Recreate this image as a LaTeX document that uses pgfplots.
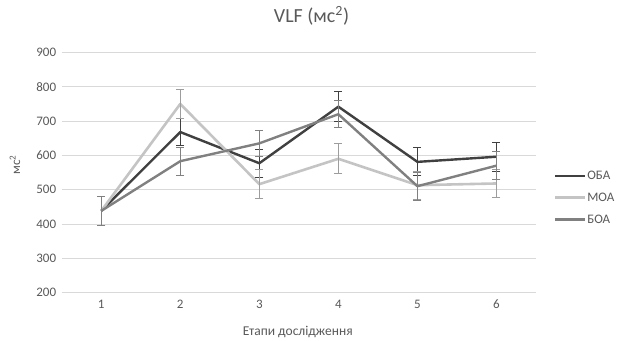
\documentclass[border=0pt]{standalone}
\usepackage{pgfplots}
\pgfplotsset{compat=1.18}
\usepackage{fontspec}
\setmainfont{Carlito}
\definecolor{oba}{HTML}{404040}
\definecolor{moa}{HTML}{C4C4C4}
\definecolor{boa}{HTML}{808080}
\definecolor{gridc}{HTML}{D9D9D9}
\definecolor{txt}{HTML}{595959}
\begin{document}
\begin{tikzpicture}[x=1pt,y=1pt]
\useasboundingbox (0,0) rectangle (617,340);
\begin{axis}[
  at={(61.7pt,47.5pt)}, anchor=south west,
  scale only axis, width=474.3pt, height=240pt,
  xmin=0.5, xmax=6.5, ymin=200, ymax=900,
  xtick={1,2,3,4,5,6}, ytick={200,300,...,900},
  axis line style={draw=none}, tick style={draw=none},
  ymajorgrids, grid style={color=gridc, line width=0.8pt},
  /pgf/number format/assume math mode=true,
  ticklabel style={font=\fontsize{13}{15}\selectfont, text=txt},
  xticklabel style={yshift=-4pt},
  yticklabel style={xshift=-2pt},
  title={VLF (мс\textsuperscript{2})},
  title style={at={(axis description cs:0.5267,1.128)}, anchor=center, font=\fontsize{20}{24}\selectfont, text=txt},
  xlabel={Етапи дослідження},
  xlabel style={at={(axis description cs:0.4976,-0.165)}, anchor=center, font=\fontsize{13.5}{16}\selectfont, text=txt},
  ylabel={мс\textsuperscript{2}},
  ylabel style={at={(axis description cs:-0.0985,0.531)}, anchor=center, rotate=0, font=\fontsize{13}{15}\selectfont, text=txt},
  legend style={at={(axis description cs:1.037,0.395)}, anchor=west, draw=none, fill=none,
    inner sep=0pt, row sep=10pt, font=\fontsize{13}{15}\selectfont, text=txt,
    nodes={inner sep=1pt}},
  legend cell align=left,
  legend image code/.code={\draw[#1] (0pt,0pt) -- (30pt,0pt);},
  every axis plot/.append style={line join=round},
  error bars/y dir=both, error bars/y explicit,
  error bars/error mark options={rotate=90, mark size=4pt, line width=0.9pt},
]
\addplot[color=oba, line width=2.4pt, mark=none,
  error bars/error bar style={line width=0.9pt, color=oba}]
  coordinates {(1,438) +- (0,42) (2,668) +- (0,39) (3,577) +- (0,41) (4,742) +- (0,44) (5,581) +- (0,41) (6,596) +- (0,42)};
\addlegendentry{ОБА}
\addplot[color=moa, line width=2.6pt, mark=none,
  error bars/error bar style={line width=0.9pt, color=moa!80!black}]
  coordinates {(1,438) +- (0,42) (2,750) +- (0,43) (3,516) +- (0,42) (4,590) +- (0,44) (5,513) +- (0,41) (6,518) +- (0,40)};
\addlegendentry{МОА}
\addplot[color=boa, line width=2.4pt, mark=none,
  error bars/error bar style={line width=0.9pt, color=boa}]
  coordinates {(1,438) +- (0,42) (2,583) +- (0,41) (3,635) +- (0,39) (4,720) +- (0,39) (5,510) +- (0,41) (6,570) +- (0,41)};
\addlegendentry{БОА}
\end{axis}
\end{tikzpicture}
\end{document}
